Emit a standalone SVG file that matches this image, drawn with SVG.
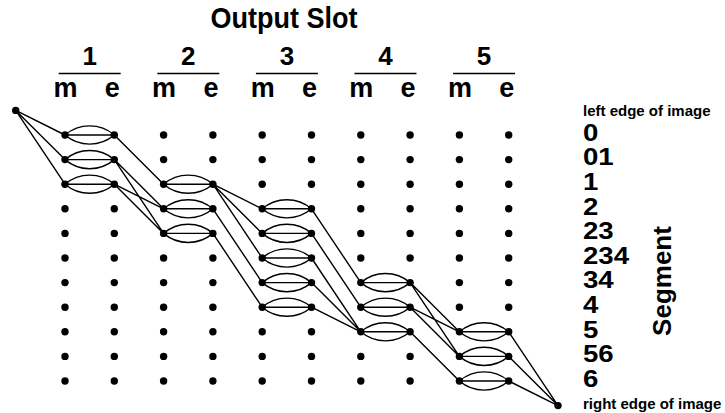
<svg xmlns="http://www.w3.org/2000/svg" width="725" height="413" viewBox="0 0 725 413">
<style>
text{font-family:"Liberation Sans",Arial,Helvetica,sans-serif;font-weight:bold;fill:#000}
.hd{font-size:26px;text-anchor:middle}
.tt{font-size:27px;text-anchor:middle}
.me{font-size:27px;text-anchor:middle}
.lb{font-size:23px}
.sm{font-size:15px}
.dot{fill:#000}
.ul{stroke:#000;stroke-width:1.6}
.c{fill:none;stroke:#000;stroke-width:1.4}
</style>
<rect width="725" height="413" fill="#fff"/>
<g id="header">
<text class="tt" transform="translate(284,28) scale(1,1.08)">Output Slot</text>
<text class="hd" x="89.7" y="65">1</text>
<text class="hd" x="188.3" y="65">2</text>
<text class="hd" x="286.9" y="65">3</text>
<text class="hd" x="385.5" y="65">4</text>
<text class="hd" x="484.1" y="65">5</text>
<line class="ul" x1="58.7" y1="73.5" x2="120.7" y2="73.5"/>
<line class="ul" x1="157.3" y1="73.5" x2="219.3" y2="73.5"/>
<line class="ul" x1="255.9" y1="73.5" x2="317.9" y2="73.5"/>
<line class="ul" x1="354.5" y1="73.5" x2="416.5" y2="73.5"/>
<line class="ul" x1="453.1" y1="73.5" x2="515.1" y2="73.5"/>
<text class="me" x="65.5" y="97">m</text><text class="me" x="112.3" y="97">e</text>
<text class="me" x="164.1" y="97">m</text><text class="me" x="210.9" y="97">e</text>
<text class="me" x="262.7" y="97">m</text><text class="me" x="309.5" y="97">e</text>
<text class="me" x="361.3" y="97">m</text><text class="me" x="408.1" y="97">e</text>
<text class="me" x="459.9" y="97">m</text><text class="me" x="506.7" y="97">e</text>
</g>
<g id="connectors">
<path class="c" d="M15.7,110.4L65,135M15.7,110.4L65,159.6M15.7,110.4L65,184.2"/>
<path class="c" d="M65,135H114.3M65,135A38,38 0 0 1 114.3,135M65,135A38,38 0 0 0 114.3,135"/>
<path class="c" d="M65,159.6H114.3M65,159.6A38,38 0 0 1 114.3,159.6M65,159.6A38,38 0 0 0 114.3,159.6"/>
<path class="c" d="M65,184.2H114.3M65,184.2A38,38 0 0 1 114.3,184.2M65,184.2A38,38 0 0 0 114.3,184.2"/>
<path class="c" d="M114.3,135L163.6,184.2M114.3,159.6L163.6,208.8M114.3,159.6L163.6,233.4M114.3,184.2L163.6,208.8M114.3,184.2L163.6,233.4"/>
<path class="c" d="M163.6,184.2H212.9M163.6,184.2A38,38 0 0 1 212.9,184.2M163.6,184.2A38,38 0 0 0 212.9,184.2"/>
<path class="c" d="M163.6,208.8H212.9M163.6,208.8A38,38 0 0 1 212.9,208.8M163.6,208.8A38,38 0 0 0 212.9,208.8"/>
<path class="c" d="M163.6,233.4H212.9M163.6,233.4A38,38 0 0 1 212.9,233.4M163.6,233.4A38,38 0 0 0 212.9,233.4"/>
<path class="c" d="M212.9,184.2L262.2,208.8M212.9,184.2L262.2,233.4M212.9,184.2L262.2,258M212.9,208.8L262.2,282.6M212.9,233.4L262.2,307.2"/>
<path class="c" d="M262.2,208.8H311.5M262.2,208.8A38,38 0 0 1 311.5,208.8M262.2,208.8A38,38 0 0 0 311.5,208.8"/>
<path class="c" d="M262.2,233.4H311.5M262.2,233.4A38,38 0 0 1 311.5,233.4M262.2,233.4A38,38 0 0 0 311.5,233.4"/>
<path class="c" d="M262.2,258H311.5M262.2,258A38,38 0 0 1 311.5,258M262.2,258A38,38 0 0 0 311.5,258"/>
<path class="c" d="M262.2,282.6H311.5M262.2,282.6A38,38 0 0 1 311.5,282.6M262.2,282.6A38,38 0 0 0 311.5,282.6"/>
<path class="c" d="M262.2,307.2H311.5M262.2,307.2A38,38 0 0 1 311.5,307.2M262.2,307.2A38,38 0 0 0 311.5,307.2"/>
<path class="c" d="M311.5,208.8L360.8,282.6M311.5,233.4L360.8,307.2M311.5,258L360.8,331.8M311.5,282.6L360.8,331.8M311.5,307.2L360.8,331.8"/>
<path class="c" d="M360.8,282.6H410.1M360.8,282.6A38,38 0 0 1 410.1,282.6M360.8,282.6A38,38 0 0 0 410.1,282.6"/>
<path class="c" d="M360.8,307.2H410.1M360.8,307.2A38,38 0 0 1 410.1,307.2M360.8,307.2A38,38 0 0 0 410.1,307.2"/>
<path class="c" d="M360.8,331.8H410.1M360.8,331.8A38,38 0 0 1 410.1,331.8M360.8,331.8A38,38 0 0 0 410.1,331.8"/>
<path class="c" d="M410.1,282.6L459.4,331.8M410.1,282.6L459.4,356.4M410.1,307.2L459.4,331.8M410.1,307.2L459.4,356.4M410.1,331.8L459.4,381"/>
<path class="c" d="M459.4,331.8H508.7M459.4,331.8A38,38 0 0 1 508.7,331.8M459.4,331.8A38,38 0 0 0 508.7,331.8"/>
<path class="c" d="M459.4,356.4H508.7M459.4,356.4A38,38 0 0 1 508.7,356.4M459.4,356.4A38,38 0 0 0 508.7,356.4"/>
<path class="c" d="M459.4,381H508.7M459.4,381A38,38 0 0 1 508.7,381M459.4,381A38,38 0 0 0 508.7,381"/>
<path class="c" d="M508.7,331.8L558,405.6M508.7,356.4L558,405.6M508.7,381L558,405.6"/>
</g>
<g id="start"><circle class="dot" cx="15.7" cy="110.4" r="3.7"/></g>
<g id="end"><circle class="dot" cx="558" cy="405.6" r="3.7"/></g>
<g id="grid">
<g id="col-1m"><circle class="dot" cx="65" cy="135" r="3.7"/><circle class="dot" cx="65" cy="159.6" r="3.7"/><circle class="dot" cx="65" cy="184.2" r="3.7"/><circle class="dot" cx="65" cy="208.8" r="3.7"/><circle class="dot" cx="65" cy="233.4" r="3.7"/><circle class="dot" cx="65" cy="258" r="3.7"/><circle class="dot" cx="65" cy="282.6" r="3.7"/><circle class="dot" cx="65" cy="307.2" r="3.7"/><circle class="dot" cx="65" cy="331.8" r="3.7"/><circle class="dot" cx="65" cy="356.4" r="3.7"/><circle class="dot" cx="65" cy="381" r="3.7"/></g>
<g id="col-1e"><circle class="dot" cx="114.3" cy="135" r="3.7"/><circle class="dot" cx="114.3" cy="159.6" r="3.7"/><circle class="dot" cx="114.3" cy="184.2" r="3.7"/><circle class="dot" cx="114.3" cy="208.8" r="3.7"/><circle class="dot" cx="114.3" cy="233.4" r="3.7"/><circle class="dot" cx="114.3" cy="258" r="3.7"/><circle class="dot" cx="114.3" cy="282.6" r="3.7"/><circle class="dot" cx="114.3" cy="307.2" r="3.7"/><circle class="dot" cx="114.3" cy="331.8" r="3.7"/><circle class="dot" cx="114.3" cy="356.4" r="3.7"/><circle class="dot" cx="114.3" cy="381" r="3.7"/></g>
<g id="col-2m"><circle class="dot" cx="163.6" cy="135" r="3.7"/><circle class="dot" cx="163.6" cy="159.6" r="3.7"/><circle class="dot" cx="163.6" cy="184.2" r="3.7"/><circle class="dot" cx="163.6" cy="208.8" r="3.7"/><circle class="dot" cx="163.6" cy="233.4" r="3.7"/><circle class="dot" cx="163.6" cy="258" r="3.7"/><circle class="dot" cx="163.6" cy="282.6" r="3.7"/><circle class="dot" cx="163.6" cy="307.2" r="3.7"/><circle class="dot" cx="163.6" cy="331.8" r="3.7"/><circle class="dot" cx="163.6" cy="356.4" r="3.7"/><circle class="dot" cx="163.6" cy="381" r="3.7"/></g>
<g id="col-2e"><circle class="dot" cx="212.9" cy="135" r="3.7"/><circle class="dot" cx="212.9" cy="159.6" r="3.7"/><circle class="dot" cx="212.9" cy="184.2" r="3.7"/><circle class="dot" cx="212.9" cy="208.8" r="3.7"/><circle class="dot" cx="212.9" cy="233.4" r="3.7"/><circle class="dot" cx="212.9" cy="258" r="3.7"/><circle class="dot" cx="212.9" cy="282.6" r="3.7"/><circle class="dot" cx="212.9" cy="307.2" r="3.7"/><circle class="dot" cx="212.9" cy="331.8" r="3.7"/><circle class="dot" cx="212.9" cy="356.4" r="3.7"/><circle class="dot" cx="212.9" cy="381" r="3.7"/></g>
<g id="col-3m"><circle class="dot" cx="262.2" cy="135" r="3.7"/><circle class="dot" cx="262.2" cy="159.6" r="3.7"/><circle class="dot" cx="262.2" cy="184.2" r="3.7"/><circle class="dot" cx="262.2" cy="208.8" r="3.7"/><circle class="dot" cx="262.2" cy="233.4" r="3.7"/><circle class="dot" cx="262.2" cy="258" r="3.7"/><circle class="dot" cx="262.2" cy="282.6" r="3.7"/><circle class="dot" cx="262.2" cy="307.2" r="3.7"/><circle class="dot" cx="262.2" cy="331.8" r="3.7"/><circle class="dot" cx="262.2" cy="356.4" r="3.7"/><circle class="dot" cx="262.2" cy="381" r="3.7"/></g>
<g id="col-3e"><circle class="dot" cx="311.5" cy="135" r="3.7"/><circle class="dot" cx="311.5" cy="159.6" r="3.7"/><circle class="dot" cx="311.5" cy="184.2" r="3.7"/><circle class="dot" cx="311.5" cy="208.8" r="3.7"/><circle class="dot" cx="311.5" cy="233.4" r="3.7"/><circle class="dot" cx="311.5" cy="258" r="3.7"/><circle class="dot" cx="311.5" cy="282.6" r="3.7"/><circle class="dot" cx="311.5" cy="307.2" r="3.7"/><circle class="dot" cx="311.5" cy="331.8" r="3.7"/><circle class="dot" cx="311.5" cy="356.4" r="3.7"/><circle class="dot" cx="311.5" cy="381" r="3.7"/></g>
<g id="col-4m"><circle class="dot" cx="360.8" cy="135" r="3.7"/><circle class="dot" cx="360.8" cy="159.6" r="3.7"/><circle class="dot" cx="360.8" cy="184.2" r="3.7"/><circle class="dot" cx="360.8" cy="208.8" r="3.7"/><circle class="dot" cx="360.8" cy="233.4" r="3.7"/><circle class="dot" cx="360.8" cy="258" r="3.7"/><circle class="dot" cx="360.8" cy="282.6" r="3.7"/><circle class="dot" cx="360.8" cy="307.2" r="3.7"/><circle class="dot" cx="360.8" cy="331.8" r="3.7"/><circle class="dot" cx="360.8" cy="356.4" r="3.7"/><circle class="dot" cx="360.8" cy="381" r="3.7"/></g>
<g id="col-4e"><circle class="dot" cx="410.1" cy="135" r="3.7"/><circle class="dot" cx="410.1" cy="159.6" r="3.7"/><circle class="dot" cx="410.1" cy="184.2" r="3.7"/><circle class="dot" cx="410.1" cy="208.8" r="3.7"/><circle class="dot" cx="410.1" cy="233.4" r="3.7"/><circle class="dot" cx="410.1" cy="258" r="3.7"/><circle class="dot" cx="410.1" cy="282.6" r="3.7"/><circle class="dot" cx="410.1" cy="307.2" r="3.7"/><circle class="dot" cx="410.1" cy="331.8" r="3.7"/><circle class="dot" cx="410.1" cy="356.4" r="3.7"/><circle class="dot" cx="410.1" cy="381" r="3.7"/></g>
<g id="col-5m"><circle class="dot" cx="459.4" cy="135" r="3.7"/><circle class="dot" cx="459.4" cy="159.6" r="3.7"/><circle class="dot" cx="459.4" cy="184.2" r="3.7"/><circle class="dot" cx="459.4" cy="208.8" r="3.7"/><circle class="dot" cx="459.4" cy="233.4" r="3.7"/><circle class="dot" cx="459.4" cy="258" r="3.7"/><circle class="dot" cx="459.4" cy="282.6" r="3.7"/><circle class="dot" cx="459.4" cy="307.2" r="3.7"/><circle class="dot" cx="459.4" cy="331.8" r="3.7"/><circle class="dot" cx="459.4" cy="356.4" r="3.7"/><circle class="dot" cx="459.4" cy="381" r="3.7"/></g>
<g id="col-5e"><circle class="dot" cx="508.7" cy="135" r="3.7"/><circle class="dot" cx="508.7" cy="159.6" r="3.7"/><circle class="dot" cx="508.7" cy="184.2" r="3.7"/><circle class="dot" cx="508.7" cy="208.8" r="3.7"/><circle class="dot" cx="508.7" cy="233.4" r="3.7"/><circle class="dot" cx="508.7" cy="258" r="3.7"/><circle class="dot" cx="508.7" cy="282.6" r="3.7"/><circle class="dot" cx="508.7" cy="307.2" r="3.7"/><circle class="dot" cx="508.7" cy="331.8" r="3.7"/><circle class="dot" cx="508.7" cy="356.4" r="3.7"/><circle class="dot" cx="508.7" cy="381" r="3.7"/></g>
</g>
<g id="labels">
<text class="sm" x="583" y="116">left edge of image</text>
<text class="lb" transform="translate(583,140.8) scale(1.2,1)">0</text>
<text class="lb" transform="translate(583,165.4) scale(1.2,1)">01</text>
<text class="lb" transform="translate(583,190) scale(1.2,1)">1</text>
<text class="lb" transform="translate(583,214.6) scale(1.2,1)">2</text>
<text class="lb" transform="translate(583,239.2) scale(1.2,1)">23</text>
<text class="lb" transform="translate(583,263.8) scale(1.2,1)">234</text>
<text class="lb" transform="translate(583,288.4) scale(1.2,1)">34</text>
<text class="lb" transform="translate(583,313) scale(1.2,1)">4</text>
<text class="lb" transform="translate(583,337.6) scale(1.2,1)">5</text>
<text class="lb" transform="translate(583,362.2) scale(1.2,1)">56</text>
<text class="lb" transform="translate(583,386.8) scale(1.2,1)">6</text>
<text class="sm" x="583" y="409">right edge of image</text>
<text class="hd" transform="translate(671,281) rotate(-90)">Segment</text>
</g>
</svg>
